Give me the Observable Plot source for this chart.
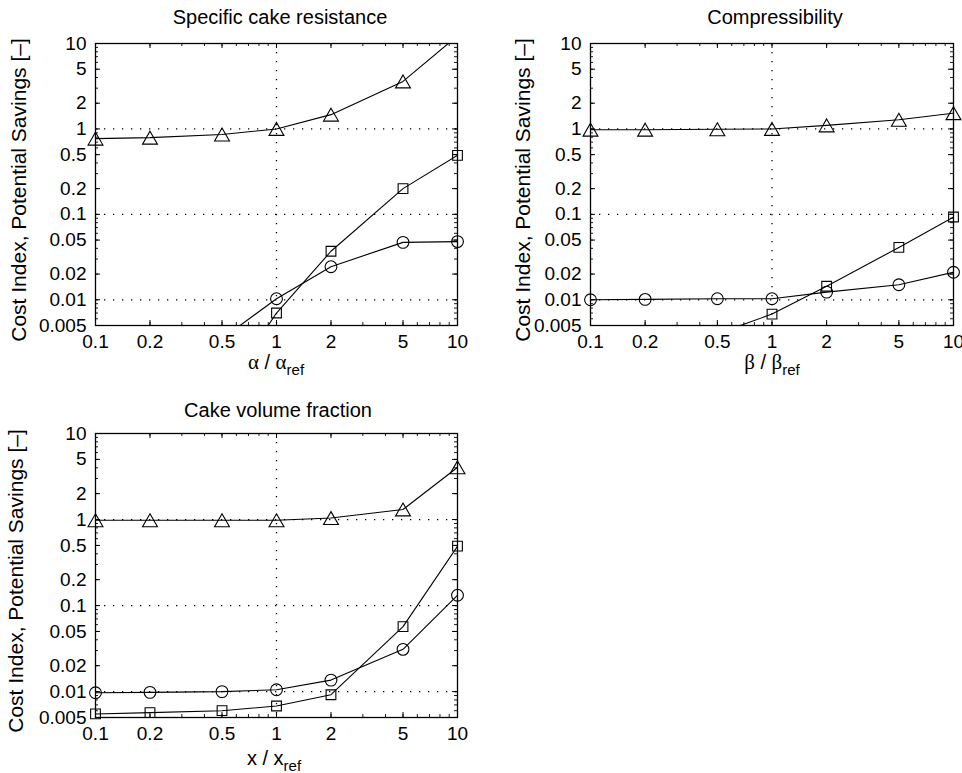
<!DOCTYPE html>
<html>
<head>
<meta charset="utf-8">
<script src="https://cdn.jsdelivr.net/npm/d3@7"></script>
<script src="https://cdn.jsdelivr.net/npm/@observablehq/plot@0.6"></script>
<style>
  html, body { margin: 0; padding: 0; background: #fff; overflow: hidden; }
  #root { position: relative; width: 962px; height: 773px; font-family: "Liberation Sans", Arial, Helvetica, sans-serif; color: #000; }
  #root svg { position: absolute; overflow: visible; }
  .title { position: absolute; font-size: 20px; line-height: 24px; transform: translate(-50%, 0); white-space: nowrap; }
  .ylab { position: absolute; font-size: 21px; transform: translate(-50%, -50%) rotate(-90deg); white-space: nowrap; }
  .xlab { position: absolute; font-size: 20px; line-height: 24px; transform: translate(-50%, 0); white-space: nowrap; }
  .xlab .g { font-family: "Liberation Serif", "DejaVu Serif", serif; font-size: 21px; }
  .xlab sub { font-size: 15px; vertical-align: -6px; line-height: 0; }
</style>
</head>
<body>
<div id="root"></div>
<script>
// ---- data ----
const xs = [0.1, 0.2, 0.5, 1, 2, 5, 10];
const xTicks = [0.1, 0.2, 0.5, 1, 2, 5, 10];
const xTickLabels = ["0.1", "0.2", "0.5", "1", "2", "5", "10"];
const yTicks = [0.005, 0.01, 0.02, 0.05, 0.1, 0.2, 0.5, 1, 2, 5, 10];
const yTickLabels = ["0.005", "0.01", "0.02", "0.05", "0.1", "0.2", "0.5", "1", "2", "5", "10"];
const xMinor = [0.1, 0.2, 0.3, 0.4, 0.5, 0.6, 0.7, 0.8, 0.9, 1, 2, 3, 4, 5, 6, 7, 8, 9, 10];
const yMinor = [0.005, 0.006, 0.007, 0.008, 0.009, 0.01, 0.02, 0.03, 0.04, 0.05, 0.06, 0.07, 0.08, 0.09,
                0.1, 0.2, 0.3, 0.4, 0.5, 0.6, 0.7, 0.8, 0.9, 1, 2, 3, 4, 5, 6, 7, 8, 9, 10];
const gridX = [1];
const gridY = [0.01, 0.1, 1];

// Specific cake resistance
const alphaTri  = [0.77, 0.79, 0.86, 1.0, 1.47, 3.6, 12.3];
const alphaSq   = [null, null, 0.00078, 0.0070, 0.037, 0.2, 0.49];
const alphaCirc = [null, null, 0.0035, 0.0103, 0.0244, 0.047, 0.048];
// Compressibility
const betaTri  = [0.98, 0.98, 0.99, 1.0, 1.1, 1.28, 1.53];
const betaSq   = [null, null, 0.0040, 0.0068, 0.0144, 0.041, 0.093];
const betaCirc = [0.0100, 0.0101, 0.0103, 0.0103, 0.0123, 0.0150, 0.021];
// Cake volume fraction
const xvTri  = [0.98, 0.98, 0.98, 0.98, 1.04, 1.31, 4.04];
const xvSq   = [0.0055, 0.0057, 0.0060, 0.0068, 0.0092, 0.057, 0.49];
const xvCirc = [0.0097, 0.0098, 0.0100, 0.0105, 0.0136, 0.031, 0.132];

const titles = ["Specific cake resistance", "Compressibility", "Cake volume fraction"];
const yLabel = "Cost Index, Potential Savings [–]";

// triangle marker centred on its bounding box
const triangle = {
  draw(ctx, size) {
    const w = 1.45 * Math.sqrt(size), h = w * 0.866;
    ctx.moveTo(0, -h / 2);
    ctx.lineTo(w / 2, h / 2);
    ctx.lineTo(-w / 2, h / 2);
    ctx.closePath();
  }
};

const Y0 = 0.005, Y1 = 10;
function rows(vals) {
  return xs.map((x, i) => ({x, y: vals[i]})).filter(d => d.y != null);
}
function visible(r) { return r.filter(d => d.y >= Y0 && d.y <= Y1); }

function panel({tri, sq, circ, left, top, width, height, mt, mb, ml, mr}) {
  const fw = width - ml - mr, fh = height - mt - mb;
  const series = [[tri, triangle], [sq, "square"], [circ, "circle"]];
  const xl = xTicks.map((v, i) => ({v, t: xTickLabels[i]}));
  const yl = yTicks.map((v, i) => ({v, t: yTickLabels[i]}));
  const marks = [
    Plot.ruleY(gridY, {y: d => d, stroke: "#000", strokeWidth: 1.3, strokeDasharray: "1.3,7.7"}),
    Plot.ruleX(gridX, {x: d => d, stroke: "#000", strokeWidth: 1.3, strokeDasharray: "1.3,7.7"}),
    // inward minor ticks
    Plot.ruleX(xMinor, {x: d => d, insetTop: fh - 3, stroke: "#000", strokeWidth: 0.9}),
    Plot.ruleX(xMinor, {x: d => d, insetBottom: fh - 3, stroke: "#000", strokeWidth: 0.9}),
    Plot.ruleY(yMinor, {y: d => d, insetRight: fw - 3, stroke: "#000", strokeWidth: 0.9}),
    Plot.ruleY(yMinor, {y: d => d, insetLeft: fw - 3, stroke: "#000", strokeWidth: 0.9}),
    // inward major ticks
    Plot.ruleX(xTicks, {x: d => d, insetTop: fh - 5, stroke: "#000", strokeWidth: 1}),
    Plot.ruleX(xTicks, {x: d => d, insetBottom: fh - 5, stroke: "#000", strokeWidth: 1}),
    Plot.ruleY(yTicks, {y: d => d, insetRight: fw - 5, stroke: "#000", strokeWidth: 1}),
    Plot.ruleY(yTicks, {y: d => d, insetLeft: fw - 5, stroke: "#000", strokeWidth: 1}),
    Plot.frame({stroke: "#000", strokeWidth: 1.3}),
    // tick labels
    Plot.text(xl, {x: "v", text: "t", frameAnchor: "bottom", dy: 22, fontSize: 19, fill: "#000"}),
    Plot.text(yl, {y: "v", text: "t", frameAnchor: "left", textAnchor: "end", dx: -9, fontSize: 19, fill: "#000"})
  ];
  for (const [vals, sym] of series) {
    const r = rows(vals);
    marks.push(Plot.line(r, {x: "x", y: "y", stroke: "#000", strokeWidth: 1.1, clip: true}));
    marks.push(Plot.dot(visible(r), {x: "x", y: "y", symbol: sym, r: sym === "circle" ? 5.9 : sym === "square" ? 5.5 : 5.8,
      stroke: "#000", strokeWidth: 1.1, fill: "none"}));
  }
  const svg = Plot.plot({
    width, height,
    marginTop: mt, marginBottom: mb, marginLeft: ml, marginRight: mr,
    x: {type: "log", domain: [0.1, 10], axis: null},
    y: {type: "log", domain: [Y0, Y1], axis: null},
    style: {fontSize: "19px", fontFamily: '"Liberation Sans", Arial, Helvetica, sans-serif', color: "#000", background: "transparent", overflow: "visible"},
    marks
  });
  svg.style.left = left + "px";
  svg.style.top = top + "px";
  return svg;
}

const root = document.getElementById("root");
root.appendChild(panel({tri: alphaTri, sq: alphaSq, circ: alphaCirc, left: 0, top: 0, width: 480, height: 370, mt: 43, mb: 45, ml: 95, mr: 23}));
root.appendChild(panel({tri: betaTri, sq: betaSq, circ: betaCirc, left: 480, top: 0, width: 482, height: 370, mt: 43, mb: 45, ml: 110, mr: 9}));
root.appendChild(panel({tri: xvTri, sq: xvSq, circ: xvCirc, left: 0, top: 390, width: 480, height: 383, mt: 43, mb: 56, ml: 95, mr: 23}));

function addDiv(cls, html, x, y) {
  const d = document.createElement("div");
  d.className = cls;
  d.innerHTML = html;
  d.style.left = x + "px";
  d.style.top = y + "px";
  root.appendChild(d);
}
addDiv("title", titles[0], 280, 5);
addDiv("title", titles[1], 775, 5);
addDiv("title", titles[2], 278, 398);
addDiv("ylab", yLabel, 19, 190);
addDiv("ylab", yLabel, 523, 190);
addDiv("ylab", yLabel, 16, 581);
addDiv("xlab", '<span class="g">α</span> / <span class="g">α</span><sub>ref</sub>', 276, 350);
addDiv("xlab", '<span class="g">β</span> / <span class="g">β</span><sub>ref</sub>', 772, 350);
addDiv("xlab", 'x / x<sub>ref</sub>', 274, 746);
</script>
</body>
</html>
